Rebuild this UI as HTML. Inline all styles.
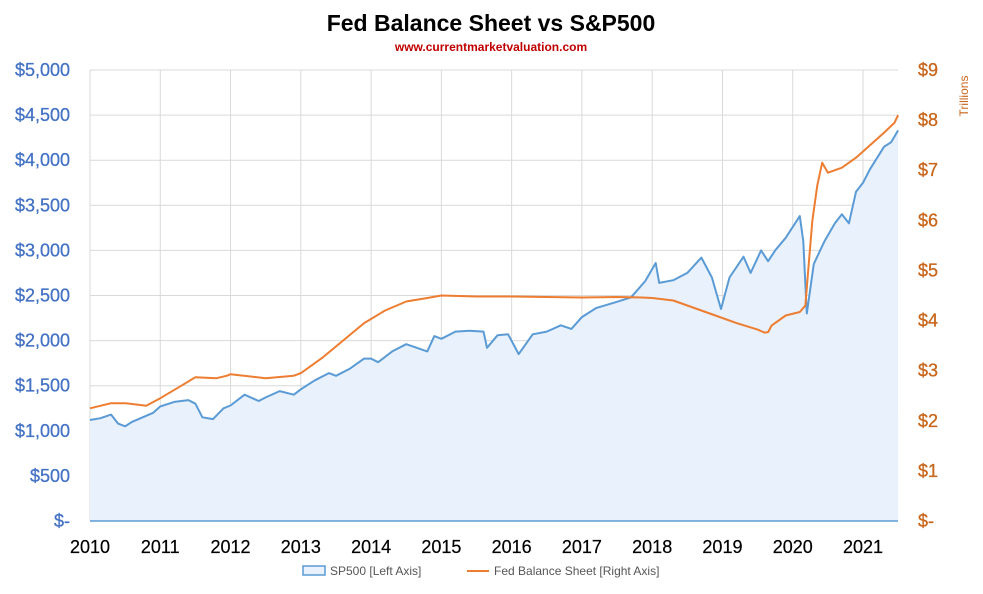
<!DOCTYPE html>
<html><head><meta charset="utf-8"><style>
body{margin:0;background:#fff;font-family:"Liberation Sans",sans-serif}
svg text{font-family:"Liberation Sans",sans-serif}
</style></head><body>
<svg id="c" width="983" height="589">
<text x="491" y="31" text-anchor="middle" font-size="23" font-weight="bold" fill="#000">Fed Balance Sheet vs S&amp;P500</text>
<text x="491" y="51" text-anchor="middle" font-size="12" font-weight="bold" fill="#c00000">www.currentmarketvaluation.com</text>
<text transform="translate(968,96) rotate(-90)" text-anchor="middle" font-size="12" fill="#c8661c">Trillions</text>
<g id="grid"></g><g id="marks"></g><g id="axes"></g>
<g>
<rect x="303" y="566" width="22" height="9" fill="#e8f1fc" stroke="#5b9bd5" stroke-width="1.5"/>
<text x="330" y="575" font-size="12" fill="#555">SP500 [Left Axis]</text>
<line x1="467" y1="571" x2="489" y2="571" stroke="#ed7d31" stroke-width="2"/>
<text x="494" y="575" font-size="12" fill="#555">Fed Balance Sheet [Right Axis]</text>
</g>
</svg>
<script>
const spT=[2010.0,2010.15,2010.3,2010.4,2010.5,2010.6,2010.75,2010.9,2011.0,2011.2,2011.4,2011.5,2011.6,2011.75,2011.9,2012.0,2012.2,2012.4,2012.5,2012.7,2012.9,2013.0,2013.2,2013.4,2013.5,2013.7,2013.9,2014.0,2014.1,2014.3,2014.5,2014.8,2014.9,2015.0,2015.2,2015.4,2015.6,2015.65,2015.8,2015.95,2016.1,2016.3,2016.5,2016.7,2016.85,2017.0,2017.2,2017.5,2017.7,2017.9,2018.05,2018.1,2018.3,2018.5,2018.7,2018.85,2018.98,2019.1,2019.3,2019.4,2019.55,2019.65,2019.75,2019.9,2020.1,2020.15,2020.2,2020.3,2020.45,2020.6,2020.7,2020.8,2020.9,2021.0,2021.1,2021.3,2021.4,2021.5];
const spV=[1120,1140,1180,1080,1050,1100,1150,1200,1270,1320,1340,1300,1150,1130,1250,1280,1400,1330,1370,1440,1400,1460,1560,1640,1610,1690,1800,1800,1760,1880,1960,1880,2050,2020,2100,2110,2100,1920,2060,2070,1850,2070,2100,2170,2130,2260,2360,2430,2480,2660,2860,2640,2670,2750,2920,2700,2350,2700,2930,2750,3000,2880,3000,3140,3380,3100,2300,2850,3100,3300,3400,3300,3650,3750,3900,4150,4200,4330];
const fedT=[2010.0,2010.3,2010.5,2010.8,2011.0,2011.3,2011.5,2011.8,2011.95,2012.0,2012.5,2012.9,2013.0,2013.3,2013.6,2013.9,2014.2,2014.5,2014.8,2015.0,2015.5,2016.0,2016.5,2017.0,2017.5,2017.85,2018.0,2018.3,2018.6,2018.9,2019.2,2019.5,2019.6,2019.65,2019.7,2019.9,2020.1,2020.18,2020.22,2020.28,2020.35,2020.42,2020.5,2020.7,2020.9,2021.1,2021.3,2021.45,2021.5];
const fedV=[2.25,2.35,2.35,2.3,2.45,2.7,2.87,2.85,2.9,2.93,2.85,2.9,2.95,3.25,3.6,3.95,4.2,4.38,4.45,4.5,4.48,4.48,4.47,4.46,4.47,4.46,4.45,4.4,4.25,4.1,3.95,3.82,3.76,3.77,3.9,4.1,4.17,4.3,5.0,6.0,6.7,7.15,6.95,7.05,7.25,7.5,7.75,7.95,8.1];
const leftTicks=[0,500,1000,1500,2000,2500,3000,3500,4000,4500,5000];
const leftLabels=["$-","$500","$1,000","$1,500","$2,000","$2,500","$3,000","$3,500","$4,000","$4,500","$5,000"];
const rightTicks=[0,1,2,3,4,5,6,7,8,9];
const rightLabels=["$-","$1","$2","$3","$4","$5","$6","$7","$8","$9"];
const years=[2010,2011,2012,2013,2014,2015,2016,2017,2018,2019,2020,2021];
const X0=90,X1=898,YT=70,YB=521;
const x=t=>X0+(t-2010)*(863-90)/11;
const yL=v=>YB-v/5000*(YB-YT);
const yR=v=>YB-v/9*(YB-YT);
const NS="http://www.w3.org/2000/svg";
function mk(tag,attrs,parent,txt){const e=document.createElementNS(NS,tag);for(const k in attrs)e.setAttribute(k,attrs[k]);if(txt!==undefined)e.textContent=txt;document.getElementById(parent).appendChild(e);return e;}
leftTicks.forEach((v,i)=>{
 const g=mk('line',{x1:X0,x2:X1,y1:yL(v),y2:yL(v),stroke:'#d9d9d9','stroke-width':1},'grid');
 
 
 const t=mk('text',{x:70,y:yL(v)+6,'text-anchor':'end','font-size':18,fill:'#4472c4',stroke:'#4472c4','stroke-width':0.3},'axes',leftLabels[i]);
 
 
});
rightTicks.forEach((v,i)=>{
 const t=mk('text',{x:918,y:yR(v)+6,'font-size':18,fill:'#c8661c',stroke:'#c8661c','stroke-width':0.3},'axes',rightLabels[i]);
 
 
});
years.forEach(yr=>{
 const g=mk('line',{x1:x(yr),x2:x(yr),y1:YT,y2:YB,stroke:'#d9d9d9','stroke-width':1},'grid');
 
 
 const t=mk('text',{x:x(yr),y:553,'text-anchor':'middle','font-size':18,fill:'#000',stroke:'#000','stroke-width':0.2},'axes',String(yr));
 
 
});
let pts=spT.map((t,i)=>x(t).toFixed(1)+','+yL(spV[i]).toFixed(1));
const area=mk('polygon',{points:x(spT[0])+','+YB+' '+pts.join(' ')+' '+x(spT[spT.length-1])+','+YB,fill:'#e8f1fc',stroke:'none'},'marks');


const sl=mk('polyline',{points:pts.join(' '),fill:'none',stroke:'#5b9bd5','stroke-width':2,'stroke-linejoin':'round'},'marks');


const fl=mk('polyline',{points:fedT.map((t,i)=>x(t).toFixed(1)+','+yR(fedV[i]).toFixed(1)).join(' '),fill:'none',stroke:'#ed7d31','stroke-width':2,'stroke-linejoin':'round'},'marks');


const ax=mk('line',{x1:X0,x2:X1,y1:YB,y2:YB,stroke:'#5b9bd5','stroke-width':1.5},'axes');


</script>
</body></html>
